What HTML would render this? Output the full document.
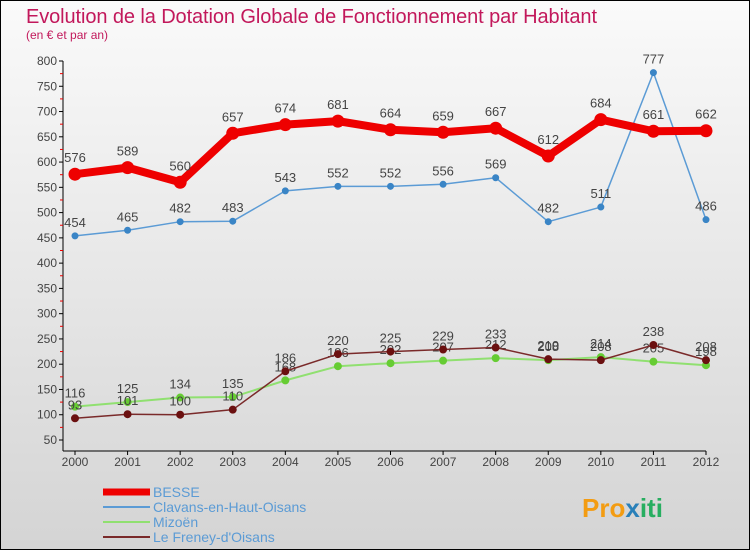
<!DOCTYPE html>
<html><head><meta charset="utf-8"><style>
body{margin:0;width:750px;height:550px;overflow:hidden;font-family:"Liberation Sans",sans-serif}
</style></head><body>
<svg width="750" height="550" xmlns="http://www.w3.org/2000/svg">
<defs><linearGradient id="bg" x1="0" y1="0" x2="0" y2="1"><stop offset="0" stop-color="#fafafa"/><stop offset="1" stop-color="#d4d4d4"/></linearGradient></defs>
<rect x="0.5" y="0.5" width="749" height="549" fill="url(#bg)" stroke="#000"/>
<text x="26" y="23" font-size="20" fill="#c2185b" textLength="571">Evolution de la Dotation Globale de Fonctionnement par Habitant</text>
<text x="26" y="39" font-size="12" fill="#c2185b">(en € et par an)</text>
<g id="axes"></g><g id="series"></g><g id="legend"></g>
<text x="582" y="517" font-size="26" font-weight="bold" fill="#f39c12">Pro<tspan fill="#2980b9">x</tspan><tspan fill="#27ae60">iti</tspan></text>
</svg>
<script>
const years=["2000","2001","2002","2003","2004","2005","2006","2007","2008","2009","2010","2011","2012"];
const besse=[576,589,560,657,674,681,664,659,667,612,684,661,662];
const clavans=[454,465,482,483,543,552,552,556,569,482,511,777,486];
const mizoen=[116,125,134,135,168,196,202,207,212,208,214,205,198];
const freney=[93,101,100,110,186,220,225,229,233,210,208,238,208];
const yTicks=[50,100,150,200,250,300,350,400,450,500,550,600,650,700,750,800];
const NS="http://www.w3.org/2000/svg";
const X=i=>75+i*(706-75)/12;
const Y=v=>440-(v-50)*(379/750);
function mk(t,a,p){const e=document.createElementNS(NS,t);for(const k in a)e.setAttribute(k,a[k]);p.appendChild(e);return e;}
const ax=document.getElementById('axes');
let l=mk('line',{x1:63,y1:61,x2:63,y2:451,stroke:'#000'},ax);


l=mk('line',{x1:63,y1:451,x2:706,y2:451,stroke:'#000'},ax);


yTicks.forEach(v=>{mk('line',{x1:59,y1:Y(v),x2:63,y2:Y(v),stroke:'#000'},ax);
 if(v<800)mk('line',{x1:60,y1:Y(v+25),x2:63,y2:Y(v+25),stroke:'#e00'},ax);
 const t=mk('text',{x:57,y:Y(v)+4,'text-anchor':'end','font-size':12,fill:'#444'},ax);t.textContent=v;
 
 });
years.forEach((y,i)=>{mk('line',{x1:X(i),y1:451,x2:X(i),y2:455,stroke:'#000'},ax);
 const t=mk('text',{x:X(i),y:466,'text-anchor':'middle','font-size':12,fill:'#444'},ax);t.textContent=y;
 
 });
const sg=document.getElementById('series');
function series(vals,color,w,r,name,dot,off){
 const g=mk('g',{},sg);
 
 
 mk('polyline',{points:vals.map((v,i)=>X(i)+','+Y(v)).join(' '),fill:'none',stroke:color,'stroke-width':w,'stroke-linejoin':'round'},g);
 vals.forEach((v,i)=>{const c=mk('circle',{cx:X(i),cy:Y(v),r:r,fill:dot,stroke:dot},g);
  
  
  const t=mk('text',{x:X(i),y:Y(v)-off,'text-anchor':'middle','font-size':13,fill:'#444'},g);t.textContent=v;
  
  });
}
series(mizoen,'#90e070',2,3.5,'series-mizoen','#66cc33',9);
series(freney,'#7a2a2a',1.5,3.5,'series-le-freney','#6b1010',9);
series(clavans,'#5b9bd5',1.5,3,'series-clavans','#3a85c6',9);
series(besse,'#ee0000',8,6,'series-besse','#ee0000',12);
const lg=document.getElementById('legend');
const leg=[['BESSE','#ee0000',7],['Clavans-en-Haut-Oisans','#5b9bd5',2],['Mizoën','#90e070',2],['Le Freney-d\'Oisans','#7a2a2a',2]];
leg.forEach((d,i)=>{const y=492+i*15;
 const g=mk('g',{},lg);
 
 
 mk('line',{x1:103,y1:y,x2:150,y2:y,stroke:d[1],'stroke-width':d[2]},g);
 const t=mk('text',{x:153,y:y+5,'font-size':14,fill:'#5b9bd5'},g);t.textContent=d[0];});
</script>
</body></html>
